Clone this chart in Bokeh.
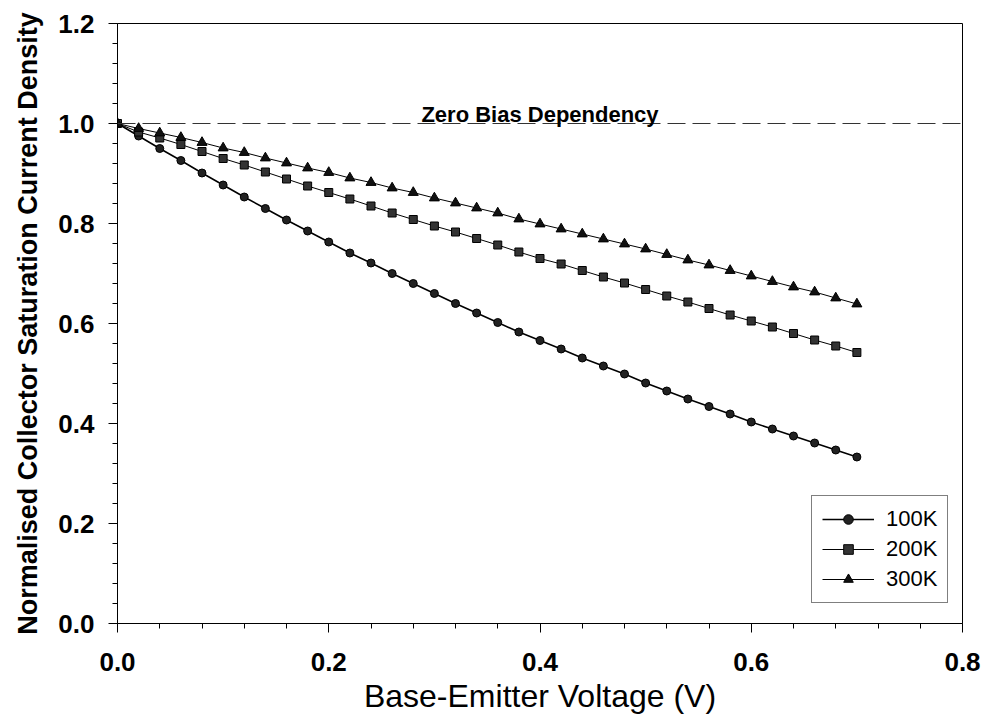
from bokeh.plotting import figure
from bokeh.models import FixedTicker, Span, Label, PrintfTickFormatter, Range1d
from bokeh.embed import file_html
from bokeh.resources import INLINE

# ---- data ----
vbe = [0.00, 0.02, 0.04, 0.06, 0.08, 0.10, 0.12, 0.14, 0.16, 0.18,
       0.20, 0.22, 0.24, 0.26, 0.28, 0.30, 0.32, 0.34, 0.36, 0.38,
       0.40, 0.42, 0.44, 0.46, 0.48, 0.50, 0.52, 0.54, 0.56, 0.58,
       0.60, 0.62, 0.64, 0.66, 0.68, 0.70]

j_100k = [1.000, 0.975, 0.950, 0.926, 0.901, 0.877, 0.853, 0.830, 0.807, 0.785,
          0.763, 0.741, 0.721, 0.700, 0.680, 0.660, 0.640, 0.621, 0.602, 0.583,
          0.566, 0.549, 0.531, 0.515, 0.499, 0.481, 0.465, 0.449, 0.434, 0.419,
          0.403, 0.389, 0.375, 0.361, 0.347, 0.333]

j_200k = [1.000, 0.983, 0.971, 0.958, 0.944, 0.930, 0.917, 0.903, 0.889, 0.875,
          0.862, 0.849, 0.835, 0.821, 0.808, 0.795, 0.783, 0.770, 0.757, 0.743,
          0.730, 0.719, 0.706, 0.693, 0.681, 0.668, 0.655, 0.643, 0.630, 0.617,
          0.605, 0.593, 0.580, 0.567, 0.555, 0.542]

j_300k = [1.000, 0.990, 0.981, 0.972, 0.962, 0.951, 0.942, 0.931, 0.921, 0.911,
          0.902, 0.891, 0.882, 0.871, 0.862, 0.851, 0.841, 0.831, 0.821, 0.809,
          0.799, 0.789, 0.779, 0.769, 0.759, 0.749, 0.738, 0.727, 0.717, 0.706,
          0.695, 0.684, 0.673, 0.663, 0.651, 0.639]

series_labels = ["100K", "200K", "300K"]
zero_bias_level = 1.0
zero_bias_text = "Zero Bias Dependency"
zero_bias_text_x = 0.4

x_ticks = [0.0, 0.2, 0.4, 0.6, 0.8]
x_minor_ticks = [0.04, 0.08, 0.12, 0.16, 0.24, 0.28, 0.32, 0.36,
                 0.44, 0.48, 0.52, 0.56, 0.64, 0.68, 0.72, 0.76]
y_ticks = [0.0, 0.2, 0.4, 0.6, 0.8, 1.0, 1.2]
y_minor_ticks = [0.04, 0.08, 0.12, 0.16, 0.24, 0.28, 0.32, 0.36,
                 0.44, 0.48, 0.52, 0.56, 0.64, 0.68, 0.72, 0.76,
                 0.84, 0.88, 0.92, 0.96, 1.04, 1.08, 1.12, 1.16]

FONT = "Liberation Sans"

p = figure(frame_width=845, frame_height=600,
           min_border_left=117, min_border_right=21,
           min_border_top=23, min_border_bottom=99,
           x_range=Range1d(0, 0.8), y_range=Range1d(0, 1.2),
           output_backend="svg", toolbar_location=None,
           background_fill_color="white", border_fill_color="white")

p.outline_line_color = "black"
p.outline_line_width = 1
p.xgrid.grid_line_color = None
p.ygrid.grid_line_color = None

# axes
for ax in (p.xaxis[0], p.yaxis[0]):
    ax.axis_line_color = "black"
    ax.major_tick_line_color = "black"
    ax.minor_tick_line_color = "black"
    ax.major_tick_in = 0
    ax.minor_tick_in = 0
    ax.major_tick_out = 9
    ax.minor_tick_out = 5
    ax.major_label_text_font = FONT
    ax.major_label_text_font_style = "bold"
    ax.major_label_text_font_size = "26px"
    ax.major_label_text_color = "black"
    ax.axis_label_text_font = FONT
    ax.axis_label_text_color = "black"
    ax.formatter = PrintfTickFormatter(format="%.1f")

p.xaxis[0].ticker = FixedTicker(ticks=x_ticks, minor_ticks=x_minor_ticks)
p.yaxis[0].ticker = FixedTicker(ticks=y_ticks, minor_ticks=y_minor_ticks)

p.xaxis[0].axis_label = "Base-Emitter Voltage (V)"
p.xaxis[0].axis_label_text_font_style = "normal"
p.xaxis[0].axis_label_text_font_size = "32px"
p.xaxis[0].major_label_standoff = 20
p.xaxis[0].axis_label_standoff = 4

p.yaxis[0].axis_label = "Normalised Collector Saturation Current Density"
p.yaxis[0].axis_label_text_font_style = "bold"
p.yaxis[0].axis_label_text_font_size = "27px"
p.yaxis[0].major_label_standoff = 14
p.yaxis[0].axis_label_standoff = 12

# zero bias reference
p.add_layout(Span(location=zero_bias_level, dimension="width",
                  line_color="#333333", line_width=1, line_dash="18 7"))
p.add_layout(Label(x=zero_bias_text_x, y=zero_bias_level, text=zero_bias_text,
                   text_align="center", text_baseline="alphabetic", y_offset=9,
                   text_font=FONT, text_font_style="bold",
                   text_font_size="22px", text_color="black"))

# series
p.line(vbe, j_100k, line_color="black", line_width=1.6, legend_label=series_labels[0])
p.scatter(vbe, j_100k, marker="circle", size=8, fill_color="#222222",
          line_color="black", legend_label=series_labels[0])

p.line(vbe, j_200k, line_color="black", line_width=1, legend_label=series_labels[1])
p.scatter(vbe, j_200k, marker="square", size=8, fill_color="#333333",
          line_color="black", legend_label=series_labels[1])

p.line(vbe, j_300k, line_color="black", line_width=1, legend_label=series_labels[2])
p.scatter(vbe, j_300k, marker="triangle", size=10, fill_color="#111111",
          line_color="black", legend_label=series_labels[2])

lg = p.legend[0]
lg.location = (694, 20)
lg.border_line_color = "black"
lg.border_line_width = 1
lg.background_fill_color = "white"
lg.background_fill_alpha = 1
lg.label_text_font = FONT
lg.label_text_font_size = "22px"
lg.label_text_color = "black"
lg.glyph_width = 52
lg.glyph_height = 24
lg.label_height = 24
lg.label_standoff = 12
lg.spacing = 4
lg.padding = 10
lg.margin = 0

open("out.html", "w").write(file_html(p, INLINE))
